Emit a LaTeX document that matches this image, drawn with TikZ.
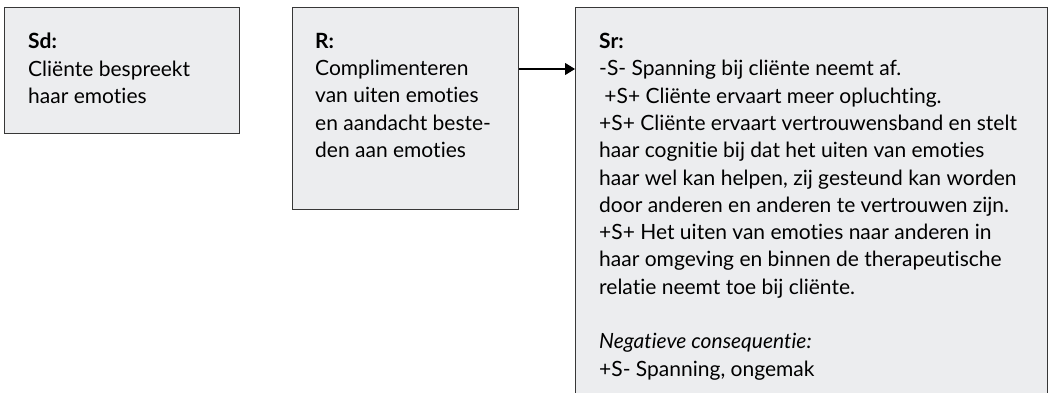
\documentclass[tikz,border=0pt]{standalone}
\usepackage{fontspec}
\setmainfont{Lato}[Ligatures={NoCommon,TeX}]
\usetikzlibrary{arrows.meta}
\definecolor{blokgrijs}{RGB}{236,237,239}
\definecolor{lijngrijs}{RGB}{55,55,55}
\tikzset{
  blok/.style={draw=lijngrijs, fill=blokgrijs, line width=1.1pt, rectangle, inner sep=0pt, anchor=north west},
  tekst/.style={anchor=north west, inner sep=0pt, align=left, font=\fontsize{21}{27.3}\selectfont},
  pijl/.style={line width=1.1pt, -{Triangle[length=10pt,width=12pt]}}
}
\begin{document}
\begin{tikzpicture}[x=1pt,y=1pt]
\useasboundingbox (0,0) rectangle (1051,-393);
\clip (0,0) rectangle (1051,-393);
\node[blok, minimum width=235, minimum height=126] (sd) at (4,-7) {};
\node[blok, minimum width=226, minimum height=202] (r) at (292,-7) {};
\node[blok, minimum width=472, minimum height=420] (sr) at (575,-7) {};
\node[tekst] (sdtekst) at (28,-33) {\textbf{Sd:}\\Cliënte bespreekt\\haar emoties};
\node[tekst] (rtekst) at (315,-33) {\textbf{R:}\\Complimenteren\\van uiten emoties\\en aandacht beste-\\den aan emoties};
\node[tekst] (srtekst) at (599,-33) {\textbf{Sr:}\\-S- Spanning bij cliënte neemt af.\\\hspace*{0.25em}+S+ Cliënte ervaart meer opluchting.\\+S+ Cliënte ervaart vertrouwensband en stelt\\haar cognitie bij dat het uiten van emoties\\haar wel kan helpen, zij gesteund kan worden\\door anderen en anderen te vertrouwen zijn.\\+S+ Het uiten van emoties naar anderen in\\haar omgeving en binnen de therapeutische\\relatie neemt toe bij cliënte.\\[27.3pt]\textit{Negatieve consequentie:}\\+S- Spanning, ongemak};
\coordinate (pijlhoogte) at (0,-69);
\draw[pijl] (r.east |- pijlhoogte) -- (sr.west |- pijlhoogte);
\end{tikzpicture}
\end{document}
